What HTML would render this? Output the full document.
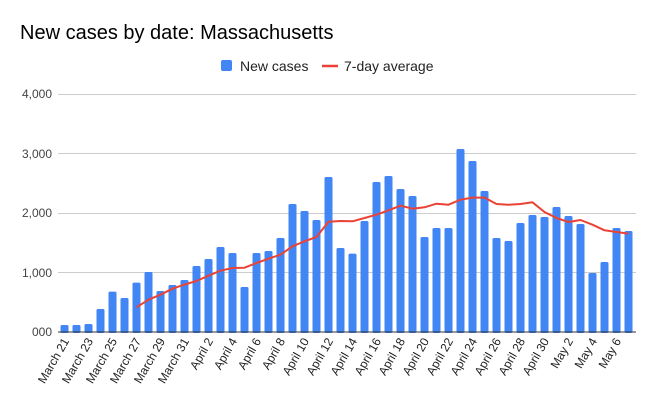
<!DOCTYPE html>
<html><head><meta charset="utf-8"><style>
body{margin:0;background:#fff}
svg text{font-family:"Liberation Sans",Arial,sans-serif}
</style></head><body>
<svg width="656" height="406" xmlns="http://www.w3.org/2000/svg">
<rect width="656" height="406" fill="#fff"/>
<text x="20" y="39" font-size="20" fill="#000">New cases by date: Massachusetts</text>
<rect x="221" y="60" width="11" height="11" rx="2" fill="#4285f4"/>
<text x="240" y="71" font-size="14" fill="#222">New cases</text>
<line x1="322" y1="66" x2="338" y2="66" stroke="#ea4335" stroke-width="2.5"/>
<text x="344" y="71" font-size="14" fill="#222">7-day average</text>
<g stroke="#ccc" stroke-width="1">
<line x1="58" y1="94.5" x2="636" y2="94.5"/>
<line x1="58" y1="153.5" x2="636" y2="153.5"/>
<line x1="58" y1="213.5" x2="636" y2="213.5"/>
<line x1="58" y1="272.5" x2="636" y2="272.5"/>
</g>
<g font-size="12" fill="#444" text-anchor="end">
<text x="52" y="98">4,000</text>
<text x="52" y="158">3,000</text>
<text x="52" y="217">2,000</text>
<text x="52" y="277">1,000</text>
<text x="52" y="336">000</text>
</g>
<g id="bars" fill="#4285f4"></g>
<polyline id="avg" fill="none" stroke="#ea4335" stroke-width="2" stroke-linejoin="round"/>
<line x1="58" y1="332" x2="636" y2="332" stroke="#333" stroke-width="1"/>
<g id="lbl" font-size="12" fill="#222" text-anchor="end"></g>
</svg>
<script>
var v=[118,118,135,387,678,571,829,1008,689,790,874,1109,1227,1429,1328,756,1328,1361,1580,2151,2034,1882,2605,1412,1317,1866,2521,2622,2403,2286,1597,1748,1748,3076,2874,2370,1580,1529,1832,1966,1933,2101,1950,1815,992,1176,1748,1697];
var a=[415,543,627,728,796,857,947,1031,1076,1081,1160,1232,1300,1440,1524,1597,1854,1866,1860,1916,1972,2045,2123,2073,2095,2157,2140,2224,2258,2258,2151,2140,2151,2179,2017,1916,1849,1882,1804,1709,1681,1653];
var ns="http://www.w3.org/2000/svg",b=document.getElementById('bars'),l=document.getElementById('lbl');
function y(x){return 332-x*0.0595;}
v.forEach(function(val,i){var cx=64.5+12*i;var r=document.createElementNS(ns,'rect');
r.setAttribute('x',cx-4);r.setAttribute('y',y(val));r.setAttribute('width',8);r.setAttribute('height',332-y(val)+1);r.setAttribute('rx',1.5);b.appendChild(r);
if(i%2==0){var d=i<11?'March '+(21+i):(i<41?'April '+(i-10):'May '+(i-40));
var t=document.createElementNS(ns,'text');var tx=cx+5,ty=341;t.setAttribute('x',tx);t.setAttribute('y',ty);t.setAttribute('transform','rotate(-60 '+tx+' '+ty+')');t.textContent=d;l.appendChild(t);}});
document.getElementById('avg').setAttribute('points',a.map(function(val,i){return (64.5+12*(i+6))+','+y(val).toFixed(1);}).join(' '));
</script>
</body></html>
